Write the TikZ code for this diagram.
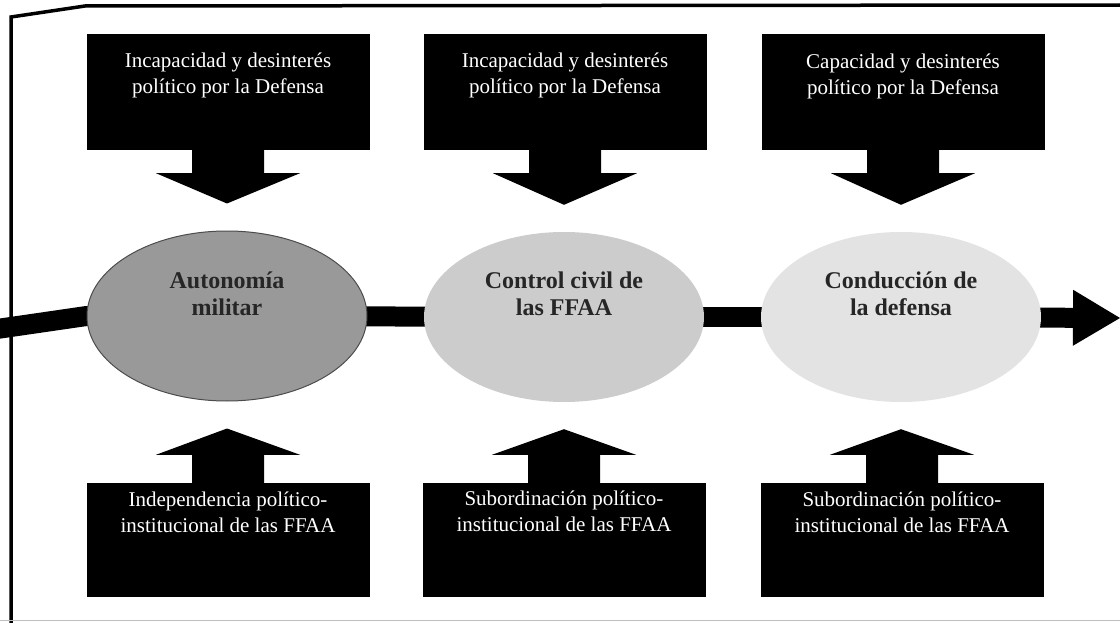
\documentclass[tikz,border=0pt]{standalone}
\usepackage{fontspec}
\setmainfont{Liberation Serif}
\usetikzlibrary{shapes.geometric,arrows.meta,calc,backgrounds}
\newcommand\mkdownarrow[2]{%
  \fill[blockfill] ($(#1.south)+(-36,-1)$) -- ($(#1.south)+(-36,23)$) -- ($(#1.south)+(-72,23)$)
     -- ($(#2.north)+(0,-27)$) -- ($(#1.south)+(72,23)$) -- ($(#1.south)+(36,23)$)
     -- ($(#1.south)+(36,-1)$) -- cycle;}
\newcommand\mkuparrow[2]{%
  \fill[blockfill] ($(#1.north)+(-36,1)$) -- ($(#1.north)+(-36,-28)$) -- ($(#1.north)+(-72,-28)$)
     -- ($(#2.south)+(0,27)$) -- ($(#1.north)+(72,-28)$) -- ($(#1.north)+(36,-28)$)
     -- ($(#1.north)+(36,1)$) -- cycle;}
\begin{document}
\begin{tikzpicture}[x=1pt,y=-1pt,
  box/.style={rectangle, fill=black, minimum width=283pt, minimum height=116pt, inner sep=0pt},
  lowbox/.style={box, minimum height=114pt},
  boxtext/.style={text=white, align=center, inner sep=0pt, font=\fontsize{21}{26}\selectfont},
  oval/.style={ellipse, minimum width=280pt, minimum height=170pt, inner sep=0pt},
  ovaltext/.style={text=black!85, align=center, inner sep=0pt, font=\bfseries\fontsize{24}{27}\selectfont},
  blockfill/.style={fill=black},
  bar/.style={line width=20pt},
  endarrow/.style={bar, -{Triangle[length=47pt,width=56pt,line width=0pt]}},
  frameline/.style={line width=3.5pt},
]
\useasboundingbox (0,0) rectangle (1120,623);

% top boxes
\node[box] (b1) at (228,92) {};
\node[box] (b2) at (565,92) {};
\node[box] (b3) at (903,92) {};
\node[boxtext] (tb1) at (228,75) {\strut Incapacidad y desinterés\\\strut político por la Defensa};
\node[boxtext] (tb2) at (565,75) {\strut Incapacidad y desinterés\\\strut político por la Defensa};
\node[boxtext] (tb3) at (903,76) {\strut Capacidad y desinterés\\\strut político por la Defensa};

% ellipses
\node[oval, fill=black!40, draw=black!70, line width=1pt] (e1) at (227,316) {};
\node[oval, fill=black!20] (e2) at (564,317) {};
\node[oval, fill=black!11] (e3) at (901,317) {};
\node[ovaltext] (te1) at (227,297) {\strut Autonomía\\\strut militar};
\node[ovaltext] (te2) at (564,297) {\strut Control civil de\\\strut las FFAA};
\node[ovaltext] (te3) at (901,297) {\strut Conducción de\\\strut la defensa};

% bottom boxes
\node[lowbox] (d1) at (228,540) {};
\node[lowbox] (d2) at (564,540) {};
\node[lowbox] (d3) at (902,540) {};
\node[boxtext] (td1) at (228,514) {\strut Independencia político-\\\strut institucional de las FFAA};
\node[boxtext] (td2) at (564,513) {\strut Subordinación político-\\\strut institucional de las FFAA};
\node[boxtext] (td3) at (902,514) {\strut Subordinación político-\\\strut institucional de las FFAA};

% block arrows
\mkdownarrow{b1}{e1}
\mkdownarrow{b2}{e2}
\mkdownarrow{b3}{e3}
\mkuparrow{d1}{e1}
\mkuparrow{d2}{e2}
\mkuparrow{d3}{e3}

\coordinate (lstart) at (-3,329);
\coordinate (aend) at (1120,318);

\begin{scope}[on background layer]
  \fill[white] (0,0) rectangle (1120,623);
  \draw[bar] (lstart) -- (e1.west) -- (e1.center);
  \draw[bar] (e1.center) -- (e2.center);
  \draw[bar] (e2.center) -- (e3.center);
  \draw[endarrow] (e3.center) -- (aend);
\end{scope}

% frame
\draw[frameline] (11,625) -- (11,17) -- (85,6) -- (1122,5);
\draw[black!25, line width=1.2pt] (0,620.5) -- (1120,620.5);
\end{tikzpicture}
\end{document}
